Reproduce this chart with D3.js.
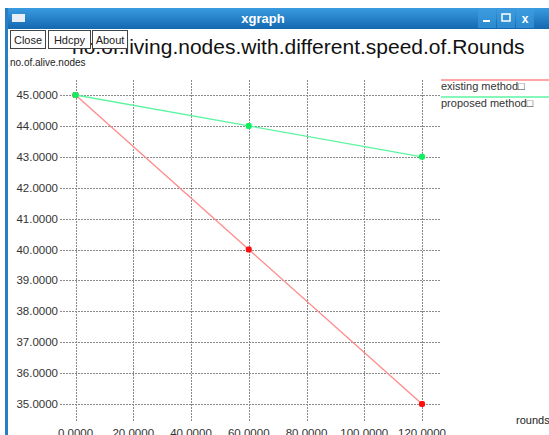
<!DOCTYPE html>
<html>
<head>
<meta charset="utf-8">
<script src="https://cdn.jsdelivr.net/npm/d3@7"></script>
<style>
  body { margin: 0; background: #fff; }
  text { font-family: "Liberation Sans", Arial, sans-serif; }
</style>
</head>
<body>
<div id="wrapper"></div>
<script>
// data
const rounds = [0, 60, 120]
const existingMethod = [45, 40, 35]
const proposedMethod = [45, 44, 43]
const xTicks = [0, 20, 40, 60, 80, 100, 120]
const yTicks = [35, 36, 37, 38, 39, 40, 41, 42, 43, 44, 45]
const seriesNames = ["existing method\u25A1", "proposed method\u25A1"]

const width = 549
const height = 435

const svg = d3.select("#wrapper")
  .append("svg")
    .attr("width", width)
    .attr("height", height)

// window frame
const defs = svg.append("defs")
const grad = defs.append("linearGradient")
    .attr("id", "bar")
    .attr("x1", 0).attr("y1", 0).attr("x2", 0).attr("y2", 1)
grad.append("stop").attr("offset", "0%").attr("stop-color", "#3a9be0")
grad.append("stop").attr("offset", "100%").attr("stop-color", "#1468b0")

svg.append("rect")
    .attr("x", 5).attr("y", 8)
    .attr("width", width - 5).attr("height", 21)
    .attr("fill", "url(#bar)")
svg.append("rect")
    .attr("x", 5).attr("y", 8)
    .attr("width", 3).attr("height", height)
    .attr("fill", "#2a7fc4")
svg.append("rect")
    .attr("x", 12).attr("y", 14)
    .attr("width", 13).attr("height", 8)
    .attr("fill", "#e8eef5")
svg.append("text")
    .attr("x", 263).attr("y", 23)
    .attr("text-anchor", "middle")
    .attr("fill", "#fff")
    .style("font-size", "13px")
    .style("font-weight", "bold")
    .text("xgraph")

// window buttons
const winBtns = [487, 506, 525]
svg.selectAll(".wb")
  .data(winBtns)
  .enter().append("rect")
    .attr("x", d => d - 9).attr("y", 9)
    .attr("width", 18).attr("height", 19)
    .attr("fill", "#3d9ee0")
    .attr("opacity", 0.6)
svg.append("rect").attr("x", 483).attr("y", 20).attr("width", 7).attr("height", 2).attr("fill", "#fff")
svg.append("rect").attr("x", 502).attr("y", 14).attr("width", 8).attr("height", 7)
    .attr("fill", "none").attr("stroke", "#fff").attr("stroke-width", 1.5)
svg.append("text").attr("x", 525).attr("y", 23).attr("text-anchor", "middle")
    .attr("fill", "#fff").style("font-size", "12px").style("font-weight", "bold").text("x")

// title (drawn behind buttons in the original)
svg.append("text")
    .attr("x", 72).attr("y", 54)
    .attr("fill", "#111")
    .style("font-size", "21px")
    .text("no.of.living.nodes.with.different.speed.of.Rounds")

// xgraph buttons
const buttons = [
  {label: "Close", x: 10, w: 35},
  {label: "Hdcpy", x: 48, w: 42},
  {label: "About", x: 92, w: 35},
]
const btn = svg.selectAll(".btn")
  .data(buttons)
  .enter().append("g")
btn.append("rect")
    .attr("x", d => d.x + 0.5).attr("y", 30.5)
    .attr("width", d => d.w).attr("height", 18)
    .attr("fill", "#fff")
    .attr("stroke", "#444")
btn.append("text")
    .attr("x", d => d.x + d.w / 2 + 0.5).attr("y", 44)
    .attr("text-anchor", "middle")
    .attr("fill", "#222")
    .style("font-size", "11px")
    .text(d => d.label)

svg.append("text")
    .attr("x", 10).attr("y", 66)
    .attr("fill", "#222")
    .style("font-size", "10px")
    .text("no.of.alive.nodes")

// scales
const xScale = d3.scaleLinear()
  .domain([0, 120])
  .range([75.5, 422])
const yScale = d3.scaleLinear()
  .domain([35, 45])
  .range([404, 95])

const grid = svg.append("g")
grid.selectAll(".hg")
  .data(yTicks)
  .enter().append("line")
    .attr("x1", 60).attr("x2", 440)
    .attr("y1", d => Math.round(yScale(d)) + 0.5)
    .attr("y2", d => Math.round(yScale(d)) + 0.5)
    .attr("stroke", "#8a8a8a")
    .attr("stroke-dasharray", "2 1")
grid.selectAll(".vg")
  .data(xTicks)
  .enter().append("line")
    .attr("x1", d => Math.round(xScale(d)) + 0.5)
    .attr("x2", d => Math.round(xScale(d)) + 0.5)
    .attr("y1", 80).attr("y2", 421)
    .attr("stroke", "#8a8a8a")
    .attr("stroke-dasharray", "2 1")

svg.selectAll(".yl")
  .data(yTicks)
  .enter().append("text")
    .attr("x", 58)
    .attr("y", d => yScale(d) + 4)
    .attr("text-anchor", "end")
    .attr("fill", "#333")
    .style("font-size", "11.5px")
    .text(d => d.toFixed(4))

svg.selectAll(".xl")
  .data(xTicks)
  .enter().append("text")
    .attr("x", d => xScale(d))
    .attr("y", 437)
    .attr("text-anchor", "middle")
    .attr("fill", "#333")
    .style("font-size", "11.5px")
    .text(d => d.toFixed(4))

svg.append("text")
    .attr("x", 516).attr("y", 424)
    .attr("fill", "#222")
    .style("font-size", "11px")
    .text("rounds")

// series
const series = [
  {name: seriesNames[0], values: existingMethod, line: "#ff8a8a", dot: "#ff1010"},
  {name: seriesNames[1], values: proposedMethod, line: "#5cf5a0", dot: "#10ee60"},
]
const lineGen = d3.line()
  .x((d, i) => xScale(rounds[i]))
  .y(d => yScale(d))

series.forEach((s, k) => {
  svg.append("path")
      .datum(s.values)
      .attr("d", lineGen)
      .attr("fill", "none")
      .attr("stroke", s.line)
      .attr("stroke-width", 1.3)
  svg.selectAll(".pt" + k)
    .data(s.values)
    .enter().append("rect")
      .attr("x", (d, i) => xScale(rounds[i]) - 3)
      .attr("y", d => yScale(d) - 3)
      .attr("width", 6).attr("height", 6)
      .attr("rx", 2)
      .attr("fill", s.dot)

  // legend
  const ly = 80 + k * 17
  svg.append("line")
      .attr("x1", 441).attr("x2", width)
      .attr("y1", ly).attr("y2", ly)
      .attr("stroke", s.line)
      .attr("stroke-width", 1.3)
  svg.append("text")
      .attr("x", 441).attr("y", ly + 10)
      .attr("fill", "#333")
      .style("font-size", "11px")
      .text(s.name)
})
</script>
</body>
</html>
